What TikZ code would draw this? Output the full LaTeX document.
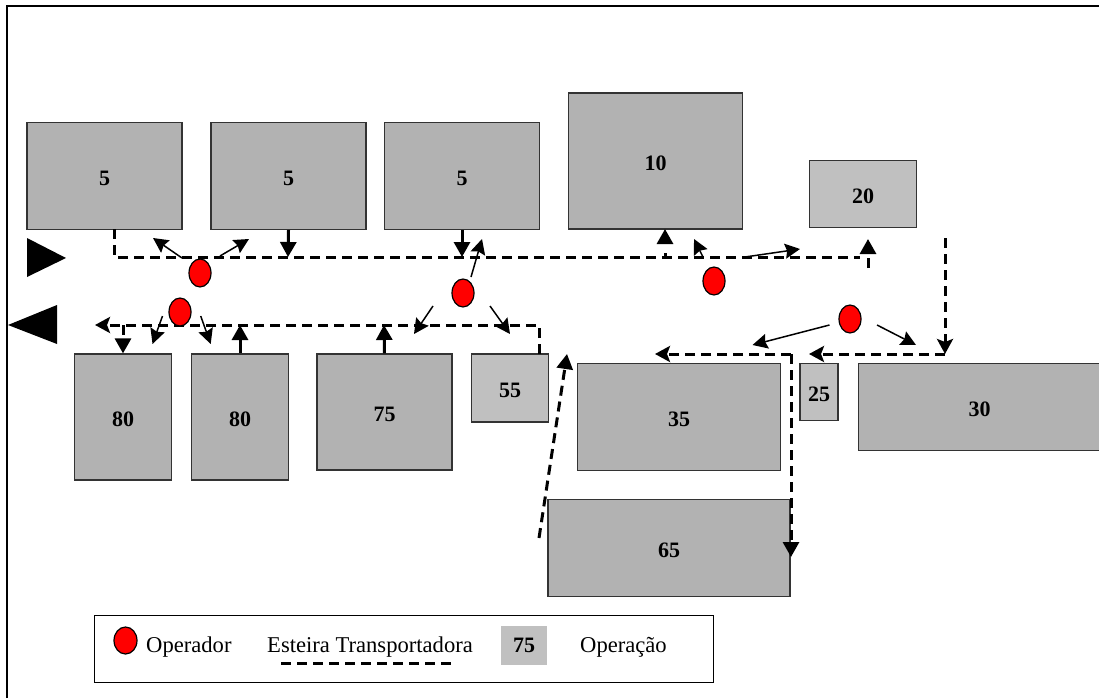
\documentclass[tikz,border=0pt]{standalone}
\usepackage{fontspec}
\setmainfont{Liberation Serif}
\usetikzlibrary{arrows.meta,shapes.geometric}
\definecolor{boxgray}{RGB}{178,178,178}
\definecolor{lightgray2}{RGB}{192,192,192}
\tikzset{
  mach/.style={draw=black!80,line width=1.2pt,fill=boxgray,minimum width=#1,inner sep=0pt,text height=18pt,text depth=0pt,font=\fontsize{22}{24}\selectfont\bfseries},
  machl/.style={mach=#1,fill=lightgray2},
  op/.style={draw=black,line width=1.2pt,fill=red,ellipse,inner sep=0pt,minimum width=22pt,minimum height=28pt},
  belt/.style={line width=3pt,dash pattern=on 10pt off 6pt},
  hd/.style={-{Triangle[length=15pt,width=16pt]}},
  hds/.style={-{Stealth[length=15pt,width=16pt,inset=3pt]}},
  reach/.style={line width=1.5pt,-{Stealth[length=15pt,width=15pt,inset=2pt]}},
  lbl/.style={inner sep=0pt,font=\fontsize{22.6}{24}\selectfont},
}
\begin{document}
\begin{tikzpicture}[x=1pt,y=-1pt]
\useasboundingbox (0,0) rectangle (1099,698);
\draw[line width=1.2pt] (7,698) -- (7,6) -- (1099,6);
% machines
\node[mach=155pt,minimum height=107pt] (m5a) at (104.5,176) {5};
\node[mach=155pt,minimum height=107pt] (m5b) at (288.5,176) {5};
\node[mach=155pt,minimum height=107pt] (m5c) at (462,176) {5};
\node[mach=174pt,minimum height=136pt] (m10) at (655.5,161) {10};
\node[machl=107pt,minimum height=67pt] (m20) at (863,194) {20};
\node[mach=97pt,minimum height=126pt] (m80a) at (123,417) {80};
\node[mach=97pt,minimum height=126pt] (m80b) at (240,417) {80};
\node[mach=135pt,minimum height=116pt] (m75) at (384.5,412) {75};
\node[machl=77pt,minimum height=68pt] (m55) at (510,388) {55};
\node[mach=203pt,minimum height=107pt] (m35) at (679,417) {35};
\node[machl=38pt,minimum height=57pt] (m25) at (819,392) {25};
\node[mach=242pt,minimum height=87pt,anchor=west,text width=242pt,align=center] (m30) at (858,407) {30};
\node[mach=242pt,minimum height=97pt] (m65) at (669,548) {65};
% entry / exit triangles
\fill (27,238) -- (66,258) -- (27,277) -- cycle;
\fill (8,325) -- (57,305) -- (57,344) -- cycle;
% coordinates on belts
\coordinate (a1) at (114,229);
\coordinate (a2) at (114,257);
\coordinate (a3) at (860,257);
\coordinate (b1) at (539,354);
\coordinate (b2) at (539,325);
\coordinate (b3) at (95,325);
\coordinate (c1) at (945,238);
\coordinate (c2) at (945,354);
\coordinate (c3) at (809,354);
\coordinate (d1) at (791,354);
\coordinate (d2) at (655,354);
\coordinate (d3) at (791,557);
\coordinate (e1) at (539,538);
\coordinate (e2) at (567,354);
% main belts
\draw[belt] (a1) -- (a2) -- (a3);
\draw[belt,hds] (c1) -- (c2);
\draw[belt,hds] (c2) -- (c3);
\draw[belt,hds] (d1) -- (d2);
\draw[belt,hd] (d1) -- (d3);
\draw[belt,hd] (e1) -- (e2);
\draw[belt,hds] (b1) -- (b2) -- (b3);
% branch belts
\draw[line width=3pt,hd] (m5b.south) -- (288,257);
\draw[line width=3pt,hd] (m5c.south) -- (462,257);
\draw[line width=3pt,dash pattern=on 5pt off 25pt,hd] (665,258) -- (665,229);
\draw[belt,hd] (868,268) -- (868,239);
\draw[belt,hd] (123,325) -- (m80a.north);
\draw[line width=3pt,hd] (m80b.north) -- (240,325);
\draw[line width=3pt,hd] (m75.north) -- (384,325);
% operators
\node[op] (o1) at (200,273) {};
\node[op] (o2) at (180,312) {};
\node[op] (o3) at (463,293) {};
\node[op] (o4) at (714,281) {};
\node[op] (o5) at (850,319) {};
% reach arrows
\draw[reach] (182,258) -- (153,238);
\draw[reach] (220,256) -- (249,239);
\draw[reach] (162.5,316) -- (152.5,344);
\draw[reach] (200.7,316) -- (210.7,344);
\draw[reach] (471,277) -- (482,239);
\draw[reach] (433,306) -- (414,334);
\draw[reach] (490,306) -- (510,334);
\draw[reach] (703,257) -- (694,239);
\draw[reach] (745,257) -- (800,249);
\draw[reach] (829.5,325) -- (752.5,345);
\draw[reach] (877,325) -- (916,345);
% legend
\node[draw,line width=1.2pt,minimum width=619pt,minimum height=67pt,inner sep=0pt] (leg) at (404,649) {};
\node[op,minimum width=23pt,minimum height=27pt] (lo) at (125.5,640.5) {};
\node[lbl,anchor=west] (lt1) at (146,647) {Operador};
\node[lbl,anchor=west] (lt2) at (267,647) {Esteira Transportadora};
\coordinate (ls1) at (281,663);
\coordinate (ls2) at (456,663);
\draw[belt] (ls1) -- (ls2);
\node[fill=lightgray2,minimum width=46pt,minimum height=39pt,inner sep=0pt,font=\fontsize{22}{24}\selectfont\bfseries] (lm) at (524,645) {75};
\node[lbl,anchor=west] (lt3) at (580,647) {Operação};
\end{tikzpicture}
\end{document}
